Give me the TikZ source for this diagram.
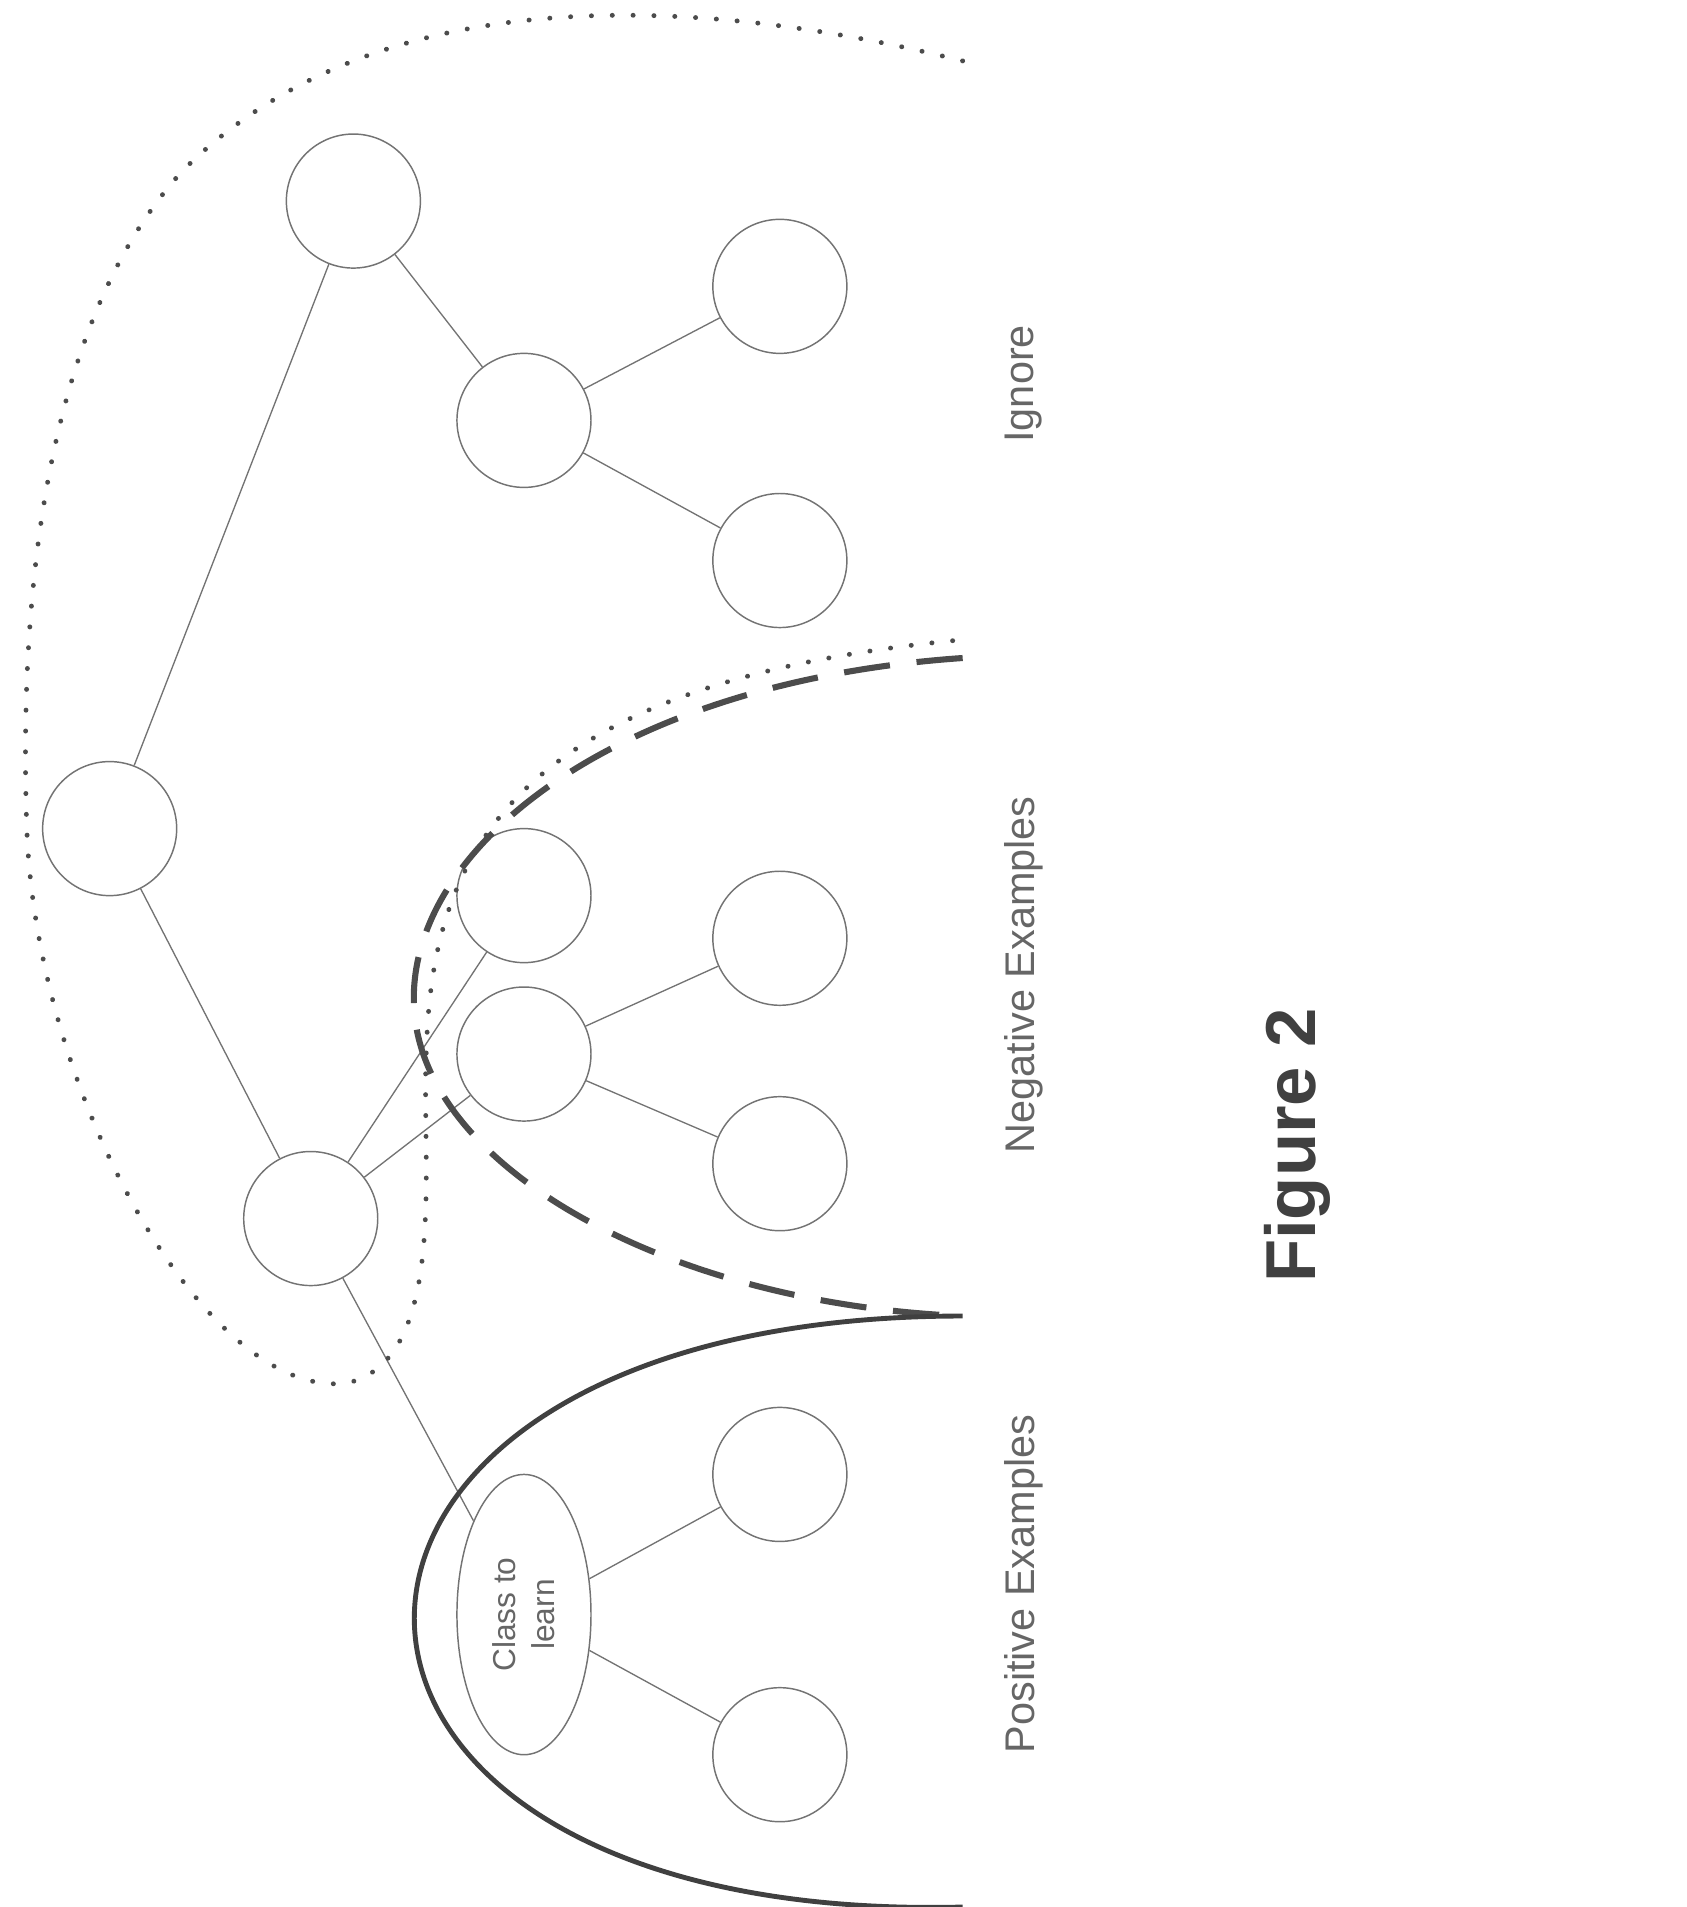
\documentclass[tikz,border=0pt]{standalone}
\usetikzlibrary{shapes.geometric}
\usepackage{fontspec}
\setmainfont{Liberation Sans}
\begin{document}
\begin{tikzpicture}[x=1pt,y=-1pt,
  nd/.style={circle,draw=black!55,line width=1.2pt,minimum size=110pt,inner sep=0pt},
  ed/.style={draw=black!55,line width=1.1pt},
  lbl/.style={rotate=90,text=black!60,font=\fontsize{34}{40}\selectfont}]
\useasboundingbox (0,0) rectangle (1384,1565);
\node[nd] (r) at (90,680) {};
\node[nd] (a) at (290,165) {};
\node[nd] (b) at (430,345) {};
\node[nd] (b1) at (640,235) {};
\node[nd] (b2) at (640,460) {};
\node[nd] (c) at (255,1000) {};
\node[nd] (c1) at (430,735) {};
\node[nd] (c2) at (430,865) {};
\node[nd] (d1) at (640,770) {};
\node[nd] (d2) at (640,955) {};
\node[ellipse,draw=black!55,line width=1.2pt,minimum width=110pt,minimum height=230pt,inner sep=0pt] (e) at (430,1325) {};
\node[rotate=90,align=center,text=black!60,font=\fontsize{26}{32}\selectfont] (et) at (430,1325) {Class to\\learn};
\node[nd] (e1) at (640,1210) {};
\node[nd] (e2) at (640,1440) {};
\draw[ed] (r)--(a); \draw[ed] (r)--(c); \draw[ed] (a)--(b);
\draw[ed] (b)--(b1); \draw[ed] (b)--(b2);
\draw[ed] (c)--(c1); \draw[ed] (c)--(c2); \draw[ed] (c)--(e);
\draw[ed] (c2)--(d1); \draw[ed] (c2)--(d2);
\draw[ed] (e)--(e1); \draw[ed] (e)--(e2);
\draw[black!70,line width=4pt,line cap=round,dash pattern=on 0.1pt off 17pt]
  (790,50) .. controls (550,-10) and (300,-10) .. (150,140)
  .. controls (40,260) and (15,480) .. (22,680)
  .. controls (30,900) and (170,1150) .. (285,1135)
  .. controls (370,1115) and (345,950) .. (350,860)
  .. controls (355,700) and (420,560) .. (790,525);
\draw[black!70,line width=5pt,dash pattern=on 38pt off 22pt]
  (790,540) .. controls (500,560) and (330,700) .. (340,830)
  .. controls (350,960) and (550,1070) .. (790,1080);
\draw[black!75,line width=4pt]
  (790,1080) .. controls (190,1080) and (190,1580) .. (790,1565);
\node[lbl] (t1) at (840,315) {Ignore};
\node[lbl] (t2) at (840,800) {Negative Examples};
\node[lbl] (t3) at (840,1300) {Positive Examples};
\node[rotate=90,text=black!75,font=\bfseries\fontsize{58}{64}\selectfont] (fig) at (1065,940) {Figure 2};
\end{tikzpicture}
\end{document}
